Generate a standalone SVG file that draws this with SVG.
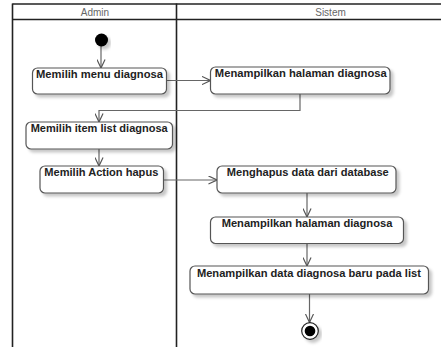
<svg xmlns="http://www.w3.org/2000/svg" width="441" height="347" viewBox="0 0 441 347">
  <style>
    .lane { fill: none; stroke: #222; stroke-width: 1.6; }
    .lane-title { font-family: "Liberation Sans", Arial, sans-serif; font-size: 10px; fill: #666; text-anchor: middle; }
    .act rect { fill: #fff; stroke: #555; stroke-width: 1.2; filter: url(#shadow); }
    .act text { font-family: "Liberation Sans", Arial, sans-serif; font-weight: bold; font-size: 10px; fill: #222; text-anchor: middle; }
    .flow { fill: none; stroke: #666; stroke-width: 1.2; marker-end: url(#open); }
  </style>
  <defs>
    <filter id="shadow" x="-20%" y="-30%" width="140%" height="170%">
      <feDropShadow dx="3" dy="3" stdDeviation="1.8" flood-color="#000" flood-opacity="0.22"/>
    </filter>
    <marker id="open" viewBox="0 0 10 10" refX="9.5" refY="5" markerWidth="9" markerHeight="9" markerUnits="userSpaceOnUse" orient="auto">
      <path d="M0,0.5 L9.5,5 L0,9.5" fill="none" stroke="#555" stroke-width="1.3"/>
    </marker>
  </defs>

  <rect width="441" height="347" fill="#fff"/>

  <!-- swimlanes -->
  <g id="swimlanes">
    <line class="lane" x1="12.5" y1="4" x2="441" y2="4" stroke="#444"/>
    <line class="lane" x1="12.5" y1="19.5" x2="441" y2="19.5" stroke-width="1.3"/>
    <line class="lane" x1="12.5" y1="3.5" x2="12.5" y2="347" stroke-width="2"/>
    <line class="lane" x1="176.5" y1="3.5" x2="176.5" y2="347" stroke-width="2"/>
    <text class="lane-title" x="95" y="15.5">Admin</text>
    <text class="lane-title" x="330.5" y="15.5">Sistem</text>
  </g>

  <!-- connectors -->
  <g id="connectors">
    <line class="flow" x1="101" y1="46" x2="101" y2="68"/>
    <line class="flow" x1="166.5" y1="80.5" x2="210.5" y2="80.5"/>
    <polyline class="flow" points="300,94 300,110.5 99,110.5 99,122"/>
    <line class="flow" x1="99" y1="149" x2="99" y2="166"/>
    <line class="flow" x1="163.5" y1="180" x2="217" y2="180"/>
    <line class="flow" x1="307" y1="193" x2="307" y2="217"/>
    <line class="flow" x1="307" y1="243.5" x2="307" y2="266"/>
    <line class="flow" x1="309.5" y1="294" x2="309.5" y2="322.5"/>
  </g>

  <!-- initial node -->
  <g id="start">
    <circle cx="101.5" cy="40" r="6.5" fill="#000" filter="url(#shadow)"/>
  </g>

  <!-- activities -->
  <g id="memilih-menu" class="act">
    <rect x="32.5" y="68" width="134" height="26" rx="5"/>
    <text x="99.5" y="78" textLength="127" lengthAdjust="spacingAndGlyphs">Memilih menu diagnosa</text>
  </g>
  <g id="tampil-halaman-1" class="act">
    <rect x="210.5" y="67" width="179.5" height="27" rx="5"/>
    <text x="300.8" y="77.3" textLength="172" lengthAdjust="spacingAndGlyphs">Menampilkan halaman diagnosa</text>
  </g>
  <g id="memilih-item" class="act">
    <rect x="26" y="122" width="146.5" height="27" rx="5"/>
    <text x="99.2" y="132.3" textLength="137" lengthAdjust="spacingAndGlyphs">Memilih item list diagnosa</text>
  </g>
  <g id="memilih-hapus" class="act">
    <rect x="40" y="166" width="123.5" height="27" rx="5"/>
    <text x="101.3" y="176.3" textLength="114" lengthAdjust="spacingAndGlyphs">Memilih Action hapus</text>
  </g>
  <g id="hapus-data" class="act">
    <rect x="217" y="166" width="179" height="27" rx="5"/>
    <text x="307.8" y="176.3" textLength="162" lengthAdjust="spacingAndGlyphs">Menghapus data dari database</text>
  </g>
  <g id="tampil-halaman-2" class="act">
    <rect x="210.5" y="217" width="193" height="26.5" rx="5"/>
    <text x="307" y="227.3" textLength="170.7" lengthAdjust="spacingAndGlyphs">Menampilkan halaman diagnosa</text>
  </g>
  <g id="tampil-data-baru" class="act">
    <rect x="190" y="266" width="238.5" height="28" rx="5"/>
    <text x="308.9" y="276.5" textLength="224" lengthAdjust="spacingAndGlyphs">Menampilkan data diagnosa baru pada list</text>
  </g>

  <!-- final node -->
  <g id="end">
    <circle cx="310" cy="331" r="8.3" fill="#fff" stroke="#222" stroke-width="1.2" filter="url(#shadow)"/>
    <circle cx="310" cy="331" r="5.3" fill="#000"/>
  </g>
</svg>
